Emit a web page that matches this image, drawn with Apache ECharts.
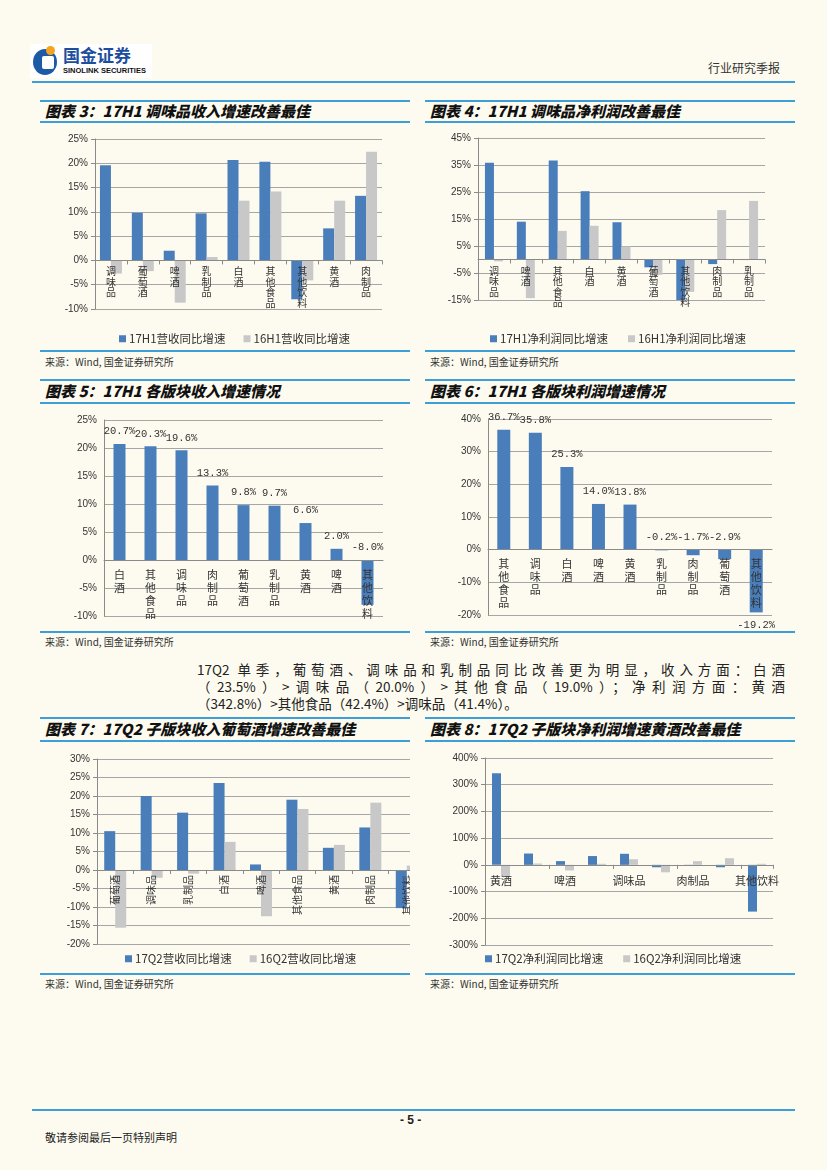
<!DOCTYPE html>
<html><head><meta charset="utf-8">
<script src="https://cdn.jsdelivr.net/npm/echarts@6/dist/echarts.min.js"></script>
<style>
body{margin:0;background:#fdfbf0;}
#page{position:relative;width:827px;height:1170px;background:#fdfbf0;font-family:'Noto Sans CJK SC',sans-serif;color:#222;overflow:hidden}
.abs{position:absolute;white-space:nowrap}
.hl{position:absolute;height:2px;background:#3c9fd8}
.title{position:absolute;font-size:15px;font-weight:900;font-style:italic;white-space:nowrap;line-height:20px;color:#111}
.src{position:absolute;font-size:10px;color:#333;white-space:nowrap;line-height:12px}
.chart{position:absolute;overflow:hidden}
.para{position:absolute;left:197px;width:588px;font-size:13.5px;line-height:17px;color:#222;font-family:'Liberation Sans Narrow','Noto Sans CJK SC',sans-serif}
.para div{text-align:justify;text-align-last:justify;white-space:nowrap}
.para div.last{text-align-last:left}
</style></head>
<body><div id="page">
<!-- header -->
<div class="abs" style="left:30px;top:44px;width:122px;height:34px;background:#fff"></div>
<div class="abs" style="left:33px;top:49px;width:24px;height:26px;border-radius:50%;background:#1d5aa6"></div>
<div class="abs" style="left:42px;top:56px;width:12px;height:13px;background:#fff;border-radius:2px"></div>
<div class="abs" style="left:46px;top:46px;width:9px;height:9px;background:#f4a21f;border-radius:50%"></div>
<div class="abs" style="left:63px;top:45px;font-size:17px;font-weight:700;color:#1d4e9e;line-height:20px">国金证券</div>
<div class="abs" style="left:63px;top:66px;font-size:7.5px;font-weight:700;color:#111;font-family:'Liberation Sans';line-height:9px">SINOLINK SECURITIES</div>
<div class="abs" style="left:708px;top:59px;font-size:12px;color:#333">行业研究季报</div>
<div class="hl" style="left:32px;top:81px;width:763px"></div>

<!-- titles row 1 -->
<div class="hl" style="left:40px;top:100px;width:370px"></div>
<div class="hl" style="left:40px;top:121px;width:370px"></div>
<div class="title" style="left:45px;top:101px">图表 3：17H1 调味品收入增速改善最佳</div>
<div class="hl" style="left:425px;top:100px;width:370px"></div>
<div class="hl" style="left:425px;top:121px;width:370px"></div>
<div class="title" style="left:430px;top:101px">图表 4：17H1 调味品净利润改善最佳</div>
<div id="c3" class="chart" style="left:40px;top:125px;width:370px;height:222px"></div>
<div id="c4" class="chart" style="left:425px;top:125px;width:380px;height:222px"></div>
<div class="hl" style="left:40px;top:350px;width:370px"></div>
<div class="hl" style="left:425px;top:350px;width:370px"></div>
<div class="src" style="left:45px;top:356px">来源：Wind, 国金证券研究所</div>
<div class="src" style="left:430px;top:356px">来源：Wind, 国金证券研究所</div>

<!-- row 2 -->
<div class="hl" style="left:40px;top:379px;width:370px"></div>
<div class="hl" style="left:40px;top:402px;width:370px"></div>
<div class="title" style="left:45px;top:381px">图表 5：17H1 各版块收入增速情况</div>
<div class="hl" style="left:425px;top:379px;width:370px"></div>
<div class="hl" style="left:425px;top:402px;width:370px"></div>
<div class="title" style="left:430px;top:381px">图表 6：17H1 各版块利润增速情况</div>
<div id="c5" class="chart" style="left:40px;top:405px;width:370px;height:225px"></div>
<div id="c6" class="chart" style="left:425px;top:405px;width:380px;height:225px"></div>
<div class="hl" style="left:40px;top:631px;width:370px"></div>
<div class="hl" style="left:425px;top:631px;width:370px"></div>
<div class="src" style="left:45px;top:636px">来源：Wind, 国金证券研究所</div>
<div class="src" style="left:430px;top:636px">来源：Wind, 国金证券研究所</div>

<!-- paragraph -->
<div class="para" style="top:661px">
<div>17Q2 单季，葡萄酒、调味品和乳制品同比改善更为明显，收入方面：白酒</div>
<div>（23.5%）&gt;调味品（20.0%）&gt;其他食品（19.0%）；净利润方面：黄酒</div>
<div class="last">（342.8%）&gt;其他食品（42.4%）&gt;调味品（41.4%）。</div>
</div>

<!-- row 3 -->
<div class="hl" style="left:40px;top:717px;width:370px"></div>
<div class="hl" style="left:40px;top:740px;width:370px"></div>
<div class="title" style="left:45px;top:719px">图表 7：17Q2 子版块收入葡萄酒增速改善最佳</div>
<div class="hl" style="left:425px;top:717px;width:370px"></div>
<div class="hl" style="left:425px;top:740px;width:370px"></div>
<div class="title" style="left:430px;top:719px">图表 8：17Q2 子版块净利润增速黄酒改善最佳</div>
<div id="c7" class="chart" style="left:40px;top:745px;width:370px;height:225px"></div>
<div id="c8" class="chart" style="left:425px;top:745px;width:380px;height:225px"></div>
<div class="hl" style="left:40px;top:973px;width:370px"></div>
<div class="hl" style="left:425px;top:973px;width:370px"></div>
<div class="src" style="left:45px;top:978px">来源：Wind, 国金证券研究所</div>
<div class="src" style="left:430px;top:978px">来源：Wind, 国金证券研究所</div>

<!-- footer -->
<div class="hl" style="left:32px;top:1109px;width:763px"></div>
<div class="abs" style="left:400px;top:1113px;font-size:12px;font-weight:700;font-family:'Liberation Sans'">- 5 -</div>
<div class="abs" style="left:45px;top:1129px;font-size:11px;color:#222">敬请参阅最后一页特别声明</div>
</div>
<script>
// ---------- data ----------
const c3Cats = ['调味品','葡萄酒','啤酒','乳制品','白酒','其他食品','其他饮料','黄酒','肉制品'];
const c3S17 = [19.6, 9.8, 2.0, 9.7, 20.7, 20.3, -8.0, 6.6, 13.3];
const c3S16 = [-2.7, -2.2, -8.7, 0.7, 12.3, 14.2, -4.1, 12.3, 22.4];
const c3Names = ['17H1营收同比增速','16H1营收同比增速'];

const c4Cats = ['调味品','啤酒','其他食品','白酒','黄酒','葡萄酒','其他饮料','肉制品','乳制品'];
const c4S17 = [35.8, 14.0, 36.7, 25.3, 13.8, -2.9, -19.2, -1.7, -0.2];
const c4S16 = [-0.7, -14.3, 10.6, 12.5, 4.8, -5.7, -12.0, 18.3, 21.7];
const c4Names = ['17H1净利润同比增速','16H1净利润同比增速'];

const c5Cats = ['白酒','其他食品','调味品','肉制品','葡萄酒','乳制品','黄酒','啤酒','其他饮料'];
const c5Vals = [20.7, 20.3, 19.6, 13.3, 9.8, 9.7, 6.6, 2.0, -8.0];

const c6Cats = ['其他食品','调味品','白酒','啤酒','黄酒','乳制品','肉制品','葡萄酒','其他饮料'];
const c6Vals = [36.7, 35.8, 25.3, 14.0, 13.8, -0.2, -1.7, -2.9, -19.2];

const c7Cats = ['葡萄酒','调味品','乳制品','白酒','啤酒','其他食品','黄酒','肉制品','其他饮料'];
const c7S17 = [10.5, 20.0, 15.5, 23.5, 1.5, 19.0, 6.0, 11.5, -10.3];
const c7S16 = [-15.6, -2.1, -1.0, 7.6, -12.5, 16.5, 6.8, 18.2, 1.2];
const c7Names = ['17Q2营收同比增速','16Q2营收同比增速'];

const c8Cats = ['黄酒','其他食品','啤酒','白酒','调味品','葡萄酒','肉制品','乳制品','其他饮料'];
const c8S17 = [342.8, 42.4, 14.0, 33.0, 41.4, -9.0, -1.0, -9.0, -175.0];
const c8S16 = [-45.0, 5.0, -21.0, 4.0, 21.0, -28.0, 14.0, 25.0, 4.0];
const c8Names = ['17Q2净利润同比增速','16Q2净利润同比增速'];

// ---------- styles ----------
const BLUE = '#4a7ebb', GRAY = '#c8c8c8', GRIDC = '#a6a6a6', AXC = '#8a8a8a', TXT = '#333';
const CJK = 'Noto Sans CJK SC';
const pct = v => v + '%';
const vert = s => s.split('').join('\n');

function yAxis(min, max, interval, fmt, extra) {
  return Object.assign({
    type: 'value', min, max, interval,
    axisLine: {show: true, lineStyle: {color: AXC}},
    axisTick: {show: true, length: 4, lineStyle: {color: AXC}},
    splitLine: {show: true, lineStyle: {color: GRIDC, width: 1}},
    axisLabel: {formatter: fmt || pct, color: TXT, fontSize: 10, fontFamily: 'Liberation Sans', margin: 7}
  }, extra || {});
}
// category axis drawn at the value axis' zero level (offset from grid bottom), above the bars
function xAxis(cats, label, ticks, zeroOff) {
  return {
    type: 'category', data: cats, position: 'bottom', offset: -zeroOff, z: 5,
    axisLine: {show: true, onZero: false, lineStyle: {color: AXC}},
    axisTick: {show: ticks, length: 4, alignWithLabel: false, lineStyle: {color: AXC}},
    axisLabel: Object.assign({color: TXT, fontSize: 10, fontFamily: CJK, interval: 0}, label)
  };
}
function zeroOff(h, g, min, max) { return (h - g.top - g.bottom) * (0 - min) / (max - min); }
function legend(names, left, top, gap) {
  return {
    data: names, left, top, itemWidth: 7, itemHeight: 7, itemGap: gap, icon: 'rect',
    textStyle: {color: TXT, fontSize: 11.5, fontFamily: CJK, padding: [0, 0, 0, -2]}
  };
}
function pair(names, a, b, w) {
  return [
    {name: names[0], type: 'bar', data: a, barWidth: w, barGap: '0%', itemStyle: {color: BLUE}, clip: true},
    {name: names[1], type: 'bar', data: b, barWidth: w, barGap: '0%', itemStyle: {color: GRAY}, clip: true}
  ];
}
function mk(id, opt) {
  const c = echarts.init(document.getElementById(id), null, {renderer: 'canvas'});
  opt.animation = false;
  opt.backgroundColor = 'transparent';
  opt.grid = Object.assign({containLabel: false, outerBoundsMode: 'none'}, opt.grid);
  c.setOption(opt);
}
const vertLabel = {formatter: vert, lineHeight: 10.5, margin: 6, verticalAlign: 'top'};

// chart 3
const g3 = {left: 55, right: 28, top: 14, bottom: 38};
mk('c3', {
  grid: g3,
  xAxis: xAxis(c3Cats, vertLabel, true, zeroOff(222, g3, -10, 25)),
  yAxis: yAxis(-10, 25, 5),
  legend: legend(c3Names, 74, 203, 18),
  series: pair(c3Names, c3S17, c3S16, 11)
});

// chart 4 (ticks at -15,-5,5,...: labelled companion axis offset by 15)
const g4 = {left: 53, right: 40, top: 13, bottom: 47};
mk('c4', {
  grid: g4,
  xAxis: xAxis(c4Cats, vertLabel, true, zeroOff(222, g4, -15, 45)),
  yAxis: [
    {type: 'value', min: -15, max: 45, show: false, splitLine: {show: false}},
    yAxis(0, 60, 10, v => (v - 15) + '%', {position: 'left'})
  ],
  legend: legend(c4Names, 60, 203, 20),
  series: pair(c4Names, c4S17, c4S16, 9)
});

// single series with labels
function single(vals, w, bottomIdx) {
  return [{
    type: 'bar', data: vals.map((v, i) => ({value: v, label: {position: i === bottomIdx ? 'bottom' : 'top'}})),
    barWidth: w, itemStyle: {color: BLUE},
    label: {show: true, formatter: p => p.value.toFixed(1) + '%', color: TXT, fontSize: 10.5, fontFamily: 'Liberation Mono', distance: 7}
  }];
}
const vertLabel2 = {formatter: vert, lineHeight: 13, margin: 8, verticalAlign: 'top', fontSize: 11};
// chart 5
const g5 = {left: 64, right: 27, top: 15, bottom: 14};
mk('c5', {
  grid: g5,
  xAxis: xAxis(c5Cats, vertLabel2, false, zeroOff(225, g5, -10, 25)),
  yAxis: yAxis(-10, 25, 5, pct, {axisTick: {show: false}}),
  series: single(c5Vals, 12, -1)
});
// chart 6
const g6 = {left: 63, right: 33, top: 14, bottom: 15};
mk('c6', {
  grid: g6,
  xAxis: xAxis(c6Cats, vertLabel2, false, zeroOff(225, g6, -20, 40)),
  yAxis: yAxis(-20, 40, 10, pct, {axisTick: {show: false}}),
  series: single(c6Vals, 13, 8)
});
// chart 7
const g7 = {left: 57, right: -15, top: 14, bottom: 26};
mk('c7', {
  grid: g7,
  xAxis: xAxis(c7Cats, {rotate: 90, margin: 5, fontSize: 10}, true, zeroOff(225, g7, -20, 30)),
  yAxis: yAxis(-20, 30, 5),
  legend: legend(c7Names, 80, 203, 18),
  series: pair(c7Names, c7S17, c7S16, 11)
});
// chart 8
const g8 = {left: 60, right: 32, top: 13, bottom: 25};
mk('c8', {
  grid: g8,
  xAxis: xAxis(c8Cats, {interval: 1, margin: 10, fontSize: 11}, true, zeroOff(225, g8, -300, 400)),
  yAxis: yAxis(-300, 400, 100),
  legend: legend(c8Names, 55, 203, 20),
  series: pair(c8Names, c8S17, c8S16, 9)
});
</script>
</body></html>
